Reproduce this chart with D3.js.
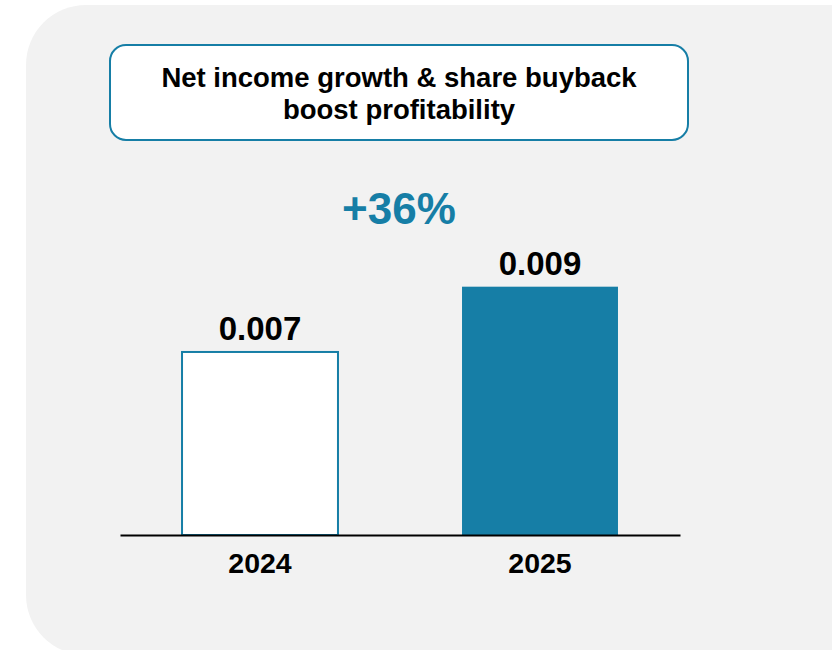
<!DOCTYPE html>
<html>
<head>
<meta charset="utf-8">
<script src="https://cdn.jsdelivr.net/npm/d3@7"></script>
<style>
  html, body { margin: 0; padding: 0; background: #ffffff; }
  svg { display: block; font-family: "Liberation Sans", Arial, sans-serif; }
</style>
</head>
<body>
<svg id="chart" width="832" height="650"></svg>
<script>
// Earnings per share by year
const years = ["2024", "2025"];
const values = [0.00656, 0.0089];
const titleLines = ["Net income growth & share buyback", "boost profitability"];

const teal = "#167ea6";
const svg = d3.select("#chart");

// Rounded grey card behind the chart
svg.append("rect")
  .attr("x", 26).attr("y", 5)
  .attr("width", 900).attr("height", 650)
  .attr("rx", 60).attr("ry", 60)
  .attr("fill", "#f2f2f2");

// Title box
svg.append("rect")
  .attr("x", 110).attr("y", 45)
  .attr("width", 578).attr("height", 95)
  .attr("rx", 16).attr("ry", 16)
  .attr("fill", "#ffffff")
  .attr("stroke", teal)
  .attr("stroke-width", 2);

svg.append("text")
  .attr("x", 399).attr("text-anchor", "middle")
  .attr("font-size", 27.5).attr("font-weight", "bold").attr("fill", "#000")
  .selectAll("tspan").data(titleLines).join("tspan")
  .attr("x", 399)
  .attr("y", (d, i) => 87 + i * 32)
  .text(d => d);

// Scales
const x = d3.scaleBand()
  .domain(years)
  .range([120, 680])
  .paddingInner(0.443)
  .paddingOuter(0.2215);

const y = d3.scaleLinear()
  .domain([0, 0.01])
  .range([535, 256]);

const fmt = d3.format(".3f");

// Bars
svg.selectAll("rect.bar").data(years).join("rect")
  .attr("class", "bar")
  .attr("x", d => x(d))
  .attr("width", x.bandwidth())
  .attr("y", (d, i) => y(values[i]))
  .attr("height", (d, i) => y(0) - y(values[i]))
  .attr("fill", (d, i) => i === 0 ? "#ffffff" : teal)
  .attr("stroke", (d, i) => i === 0 ? teal : "none")
  .attr("stroke-width", 2);

// Value labels
svg.selectAll("text.val").data(years).join("text")
  .attr("class", "val")
  .attr("x", d => x(d) + x.bandwidth() / 2)
  .attr("y", (d, i) => y(values[i]) - 12)
  .attr("text-anchor", "middle")
  .attr("font-size", 33).attr("font-weight", "bold").attr("fill", "#000")
  .text((d, i) => fmt(values[i]));

// Baseline
const axis = svg.append("g")
  .attr("transform", `translate(0,${y(0)})`)
  .call(d3.axisBottom(x).tickSize(0).tickPadding(18));
axis.select(".domain").attr("stroke", "#000").attr("stroke-width", 2);
axis.selectAll(".tick text")
  .attr("font-size", 28.5).attr("font-weight", "bold").attr("fill", "#000")
  .attr("font-family", "Liberation Sans, Arial, sans-serif")
  .attr("dy", "0.71em");

// Growth annotation
const growth = values[1] / values[0] - 1;
svg.append("text")
  .attr("x", 399).attr("y", 224)
  .attr("text-anchor", "middle")
  .attr("font-size", 44).attr("font-weight", "bold").attr("fill", teal)
  .text(d3.format("+.0%")(growth));
</script>
</body>
</html>
